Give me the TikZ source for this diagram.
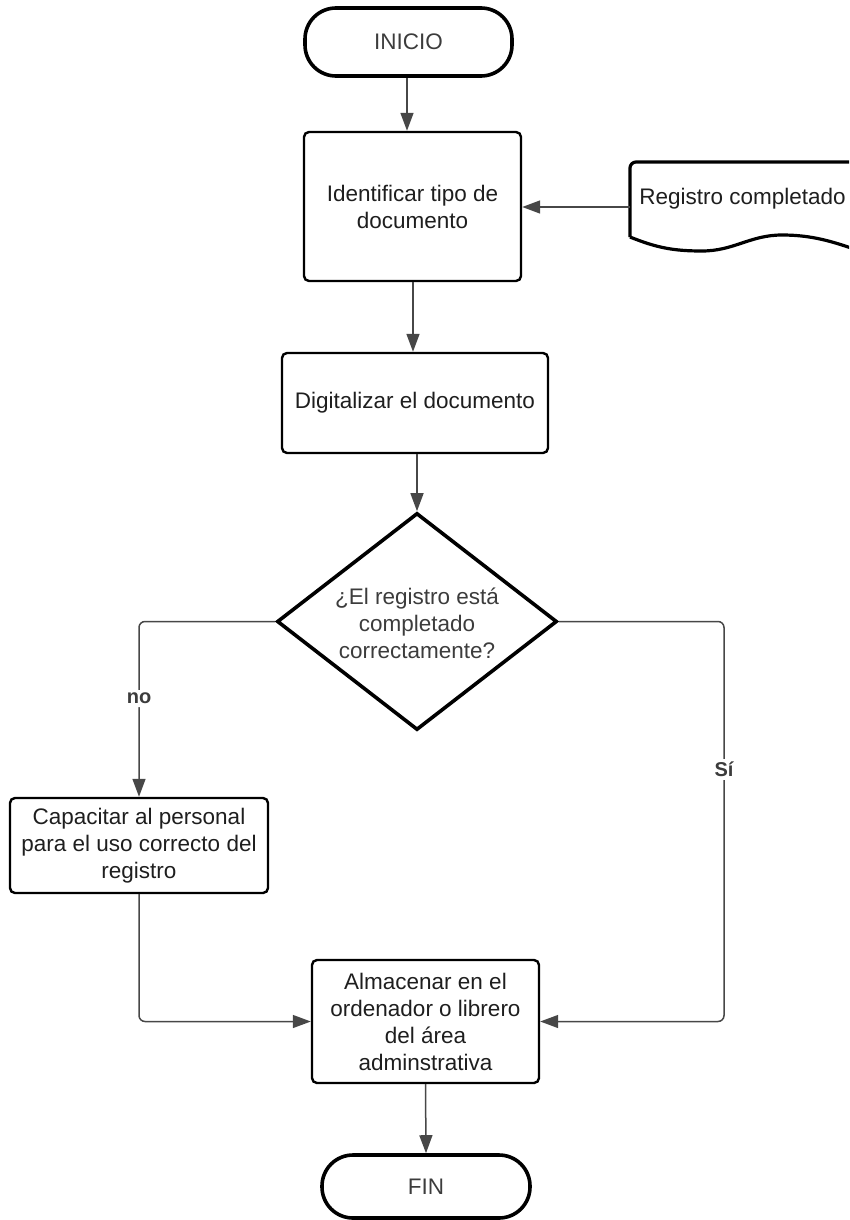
\documentclass[tikz,border=0pt]{standalone}
\usepackage{fontspec}
\setmainfont{Liberation Sans}
\usetikzlibrary{arrows.meta,shapes.geometric}
\definecolor{ink}{HTML}{1E1E1E}
\definecolor{softink}{HTML}{3C3C3C}
\definecolor{wire}{HTML}{474747}
\begin{document}
\begin{tikzpicture}[x=1pt,y=-1pt,
  every node/.style={font=\fontsize{22.5}{27}\selectfont, align=center, inner sep=0pt},
  process/.style={rectangle, draw=black, line width=2.4pt, rounded corners=5pt, text=ink},
  terminal/.style={rectangle, draw=black, line width=3.6pt, rounded corners=31pt, text=softink},
  decision/.style={diamond, draw=black, line width=3.6pt, inner sep=0pt},
  flow/.style={draw=wire, line width=1.5pt, rounded corners=6pt,
    -{Triangle[length=18pt,width=13pt,fill=wire]}},
  tag/.style={font=\bfseries\fontsize{20}{24}\selectfont, text=softink, fill=white, inner sep=3pt},
  docline/.style={draw=black, line width=3.2pt, line join=round}
]
\useasboundingbox (0,0) rectangle (849,1220);

% terminals
\node[terminal, minimum width=207pt, minimum height=68pt] (start) at (408.5,42) {INICIO};
\node[terminal, minimum width=208pt, minimum height=63pt] (fin) at (426,1186.5) {FIN};

% process steps
\node[process, minimum width=217pt, minimum height=149pt] (identify) at (412.5,206.5) {Identificar tipo de\\documento};
\node[process, minimum width=266pt, minimum height=100pt] (digitize) at (415,403) {Digitalizar el documento};
\node[process, minimum width=258pt, minimum height=95pt] (train) at (139,845.5) {Capacitar al personal\\para el uso correcto del\\registro};
\node[process, minimum width=227pt, minimum height=123pt] (store) at (425.5,1021.5) {Almacenar en el\\ordenador o librero\\del área\\adminstrativa};

% decision
\node[decision, minimum width=280pt, minimum height=217pt] (check) at (417,621.5) {};
\node[text=softink] (checktext) at (417,623) {¿El registro está\\completado\\correctamente?};

% input document with wavy lower edge
\begin{scope}
  \clip (0,0) rectangle (849,1220);
  \draw[docline, rounded corners=6pt] (630,237) -- (630,162) -- (895,162) -- (895,262);
  \draw[docline] (630,237) to[out=-22,in=180] (702,251) to[out=0,in=180] (782,235) to[out=0,in=165] (895,262);
\end{scope}
\node[text=ink] (doc) at (742.5,199) {Registro completado};
\coordinate (docin) at (630,207);

% connectors
\draw[flow] (start.south -| 407,0) -- (407,0 |- identify.north);
\draw[flow] (docin) -- (docin -| identify.east);
\draw[flow] (413,0 |- identify.south) -- (413,0 |- digitize.north);
\draw[flow] (417,0 |- digitize.south) -- (check.north);
\draw[flow] (check.west) -| (train.north) node[tag, pos=0.72] {no};
\draw[flow] (check.east) -- (724,0 |- check.east) -- (724,0 |- store.east) node[tag, pos=0.37] {Sí} -- (store.east);
\draw[flow] (train.south) |- (store.west);
\draw[flow] (store.south) -- (fin.north);
\end{tikzpicture}
\end{document}
